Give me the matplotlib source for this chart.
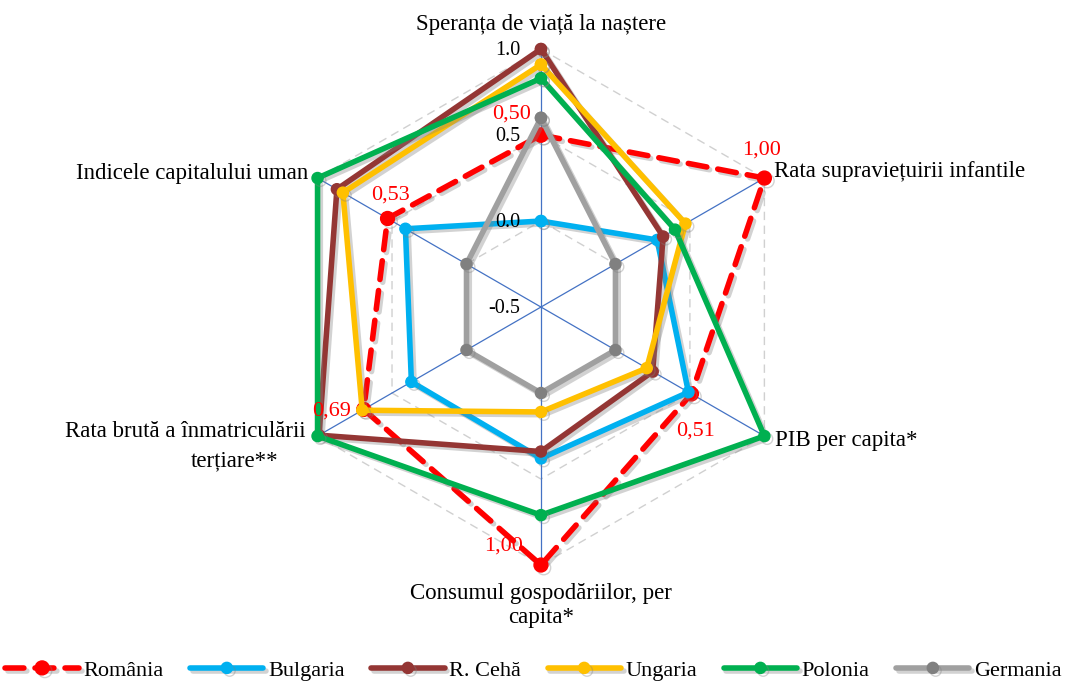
import numpy as np
import matplotlib
matplotlib.use('Agg')
import matplotlib.pyplot as plt
import matplotlib.patheffects as pe

plt.rcParams['font.family'] = ['Liberation Serif', 'DejaVu Serif']

# Axele (in sensul acelor de ceasornic, de sus)
categories = ['Speranța de viață la naștere', 'Rata supraviețuirii infantile', 'PIB per capita*',
              'Consumul gospodăriilor, per\ncapita*', 'Rata brută a înmatriculării\nterțiare**',
              'Indicele capitalului uman']

romania = [0.50, 1.00, 0.51, 1.00, 0.69, 0.53]
bulgaria = [0.00, 0.28, 0.49, 0.38, 0.37, 0.41]
ceha = [1.00, 0.32, 0.25, 0.34, 0.99, 0.87]
ungaria = [0.91, 0.47, 0.21, 0.11, 0.70, 0.83]
polonia = [0.83, 0.40, 1.00, 0.71, 1.00, 1.00]
germania = [0.60, 0.00, 0.00, 0.00, 0.00, 0.00]

romania_labels = ['0,50', '1,00', '0,51', '1,00', '0,69', '0,53']
radial_ticks = [-0.5, 0.0, 0.5, 1.0]
radial_tick_labels = ['-0.5', '0.0', '0.5', '1.0']

series = [
    ('România', romania, '#FF0000', '#FF0000'),
    ('Bulgaria', bulgaria, '#00B0F0', '#00B0F0'),
    ('R. Cehă', ceha, '#943634', '#943634'),
    ('Ungaria', ungaria, '#FFC000', '#FFC000'),
    ('Polonia', polonia, '#00B050', '#00B050'),
    ('Germania', germania, '#A0A0A0', '#808080'),
]

FS = 16.5

n = len(categories)
theta = np.linspace(0, 2 * np.pi, n, endpoint=False)
theta_c = np.append(theta, theta[0])

fig = plt.figure(figsize=(10.67, 6.91), dpi=100)
ax = fig.add_axes([0.2652, 0.1823, 0.4836, 0.7467], projection='polar')
ax.set_theta_zero_location('N')
ax.set_theta_direction(-1)
ax.set_ylim(-0.5, 1.0)
ax.grid(False)
ax.spines['polar'].set_visible(False)
ax.set_xticks([])
ax.set_yticks([])
ax.patch.set_alpha(0)

# grila hexagonala
for r in radial_ticks[1:]:
    ax.plot(theta_c, [r] * (n + 1), color='#D0D0D0', lw=1, ls=(0, (6, 4)), zorder=1, clip_on=False)
for t in theta:
    ax.plot([t, t], [-0.5, 1.0], color='#4472C4', lw=0.9, zorder=2, clip_on=False)

shadow = [pe.SimpleLineShadow(offset=(2, -2), shadow_color='#808080', alpha=0.35), pe.Normal()]

for i, (name, vals, col, mcol) in enumerate(series):
    v = np.append(vals, vals[0])
    if name == 'România':
        ax.plot(theta_c, v, color=col, lw=4, ls=(0, (3.4, 2)), marker='o', ms=10,
                mfc=mcol, mec=mcol, label=name, zorder=3 + i, path_effects=shadow,
                dash_capstyle='round', clip_on=False)
    else:
        ax.plot(theta_c, v, color=col, lw=4, marker='o', ms=8, mfc=mcol, mec=mcol,
                label=name, zorder=3 + i, path_effects=shadow, solid_capstyle='round',
                clip_on=False)

# etichetele axei radiale
for r, lab in zip(radial_ticks, radial_tick_labels):
    ax.annotate(lab, xy=(0, r), xytext=(-15, -1), textcoords='offset points',
                ha='right', va='center', fontsize=14.5, zorder=20)

# etichetele categoriilor
ax.annotate(categories[0], xy=(theta[0], 1.0), xytext=(0, 18), textcoords='offset points',
            ha='center', va='center', fontsize=FS, annotation_clip=False)
ax.annotate(categories[1], xy=(theta[1], 1.0), xytext=(7, 4.5), textcoords='offset points',
            ha='left', va='center', fontsize=FS, annotation_clip=False)
ax.annotate(categories[2], xy=(theta[2], 1.0), xytext=(7.5, -3), textcoords='offset points',
            ha='left', va='center', fontsize=FS, annotation_clip=False)
ax.annotate(categories[3], xy=(theta[3], 1.0), xytext=(0, -13), textcoords='offset points',
            ha='center', va='top', fontsize=FS, multialignment='center', linespacing=1.2,
            annotation_clip=False)
ll1, ll2 = categories[4].split('\n')
ax.annotate(ll1, xy=(theta[4], 1.0), xytext=(-9, 3), textcoords='offset points',
            ha='right', va='center', fontsize=FS, annotation_clip=False)
ax.annotate(ll2, xy=(theta[4], 1.0), xytext=(-28, -18), textcoords='offset points',
            ha='right', va='center', fontsize=FS, annotation_clip=False)
ax.annotate(categories[5], xy=(theta[5], 1.0), xytext=(-7, 3.5), textcoords='offset points',
            ha='right', va='center', fontsize=FS, annotation_clip=False)

# etichetele pentru Romania
lab_off = [(-21, 15), (-2, 20), (3, -27), (-27, 14), (-23, -1.5), (2, 17)]
for t, v, lab, off in zip(theta, romania, romania_labels, lab_off):
    ax.annotate(lab, xy=(t, v), xytext=off, textcoords='offset points',
                ha='center', va='center', fontsize=16, color='#FF0000', zorder=20,
                annotation_clip=False)

fig.legend(loc='lower center', bbox_to_anchor=(0.5, -0.014), ncol=6, frameon=False,
           fontsize=16, handlelength=3.3, handletextpad=0.2, columnspacing=1.2)

fig.savefig('out.png', dpi=100)
